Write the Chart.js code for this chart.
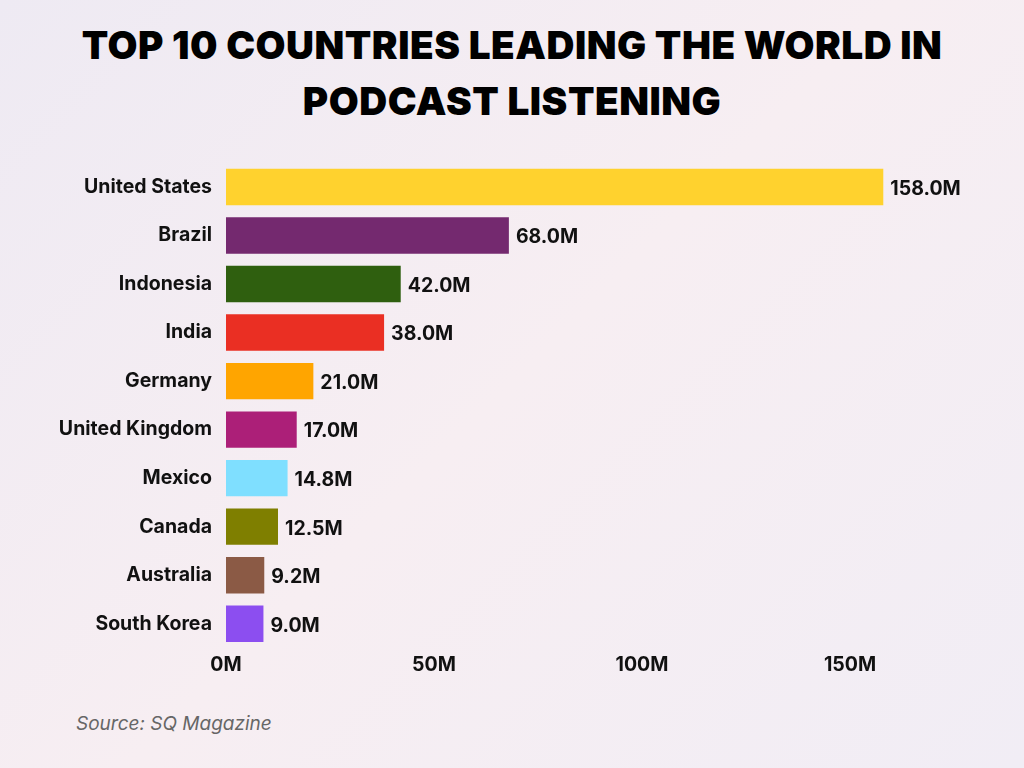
<!DOCTYPE html>
<html>
<head>
<meta charset="utf-8">
<script src="https://cdn.jsdelivr.net/npm/chart.js@4"></script>
<style>
  body { margin: 0; width: 1024px; height: 768px; overflow: hidden;
         background: linear-gradient(135deg, #eeeaf3 0%, #f7eef2 50%, #f1edf5 100%);
         font-family: Inter, "Noto Sans", sans-serif; }
  #title { position: absolute; top: 17px; left: 0; width: 1024px; text-align: center;
           font-size: 38.7px; font-weight: 900; line-height: 56px; color: #000; letter-spacing: 0.5px; }
  #wrap { position: absolute; left: 0; top: 145px; width: 1024px; height: 543px; }
  #source { position: absolute; left: 76px; top: 712px; font-size: 19px; font-style: italic; color: #666; }
</style>
</head>
<body>
<div id="title">TOP 10 COUNTRIES LEADING THE WORLD IN<br>PODCAST LISTENING</div>
<div id="wrap"><canvas id="chart"></canvas></div>
<div id="source">Source: SQ Magazine</div>
<script>
var countries = ["United States", "Brazil", "Indonesia", "India", "Germany", "United Kingdom", "Mexico", "Canada", "Australia", "South Korea"];
var listeners = [158.0, 68.0, 42.0, 38.0, 21.0, 17.0, 14.8, 12.5, 9.2, 9.0];
var barColors = ["#ffd22e", "#74296f", "#2f5f0f", "#ea2f23", "#ffa500", "#ac1f78", "#7fdfff", "#7f7f00", "#8b5a45", "#8c4ef0"];
var tickValues = [0, 50, 100, 150];

// draw value labels at bar ends
var valueLabels = {
    id: 'valueLabels',
    afterDatasetsDraw: function(chart) {
        var ctx = chart.ctx;
        var meta = chart.getDatasetMeta(0);
        ctx.save();
        ctx.font = '700 19.5px Inter';
        ctx.fillStyle = '#111';
        ctx.textBaseline = 'middle';
        meta.data.forEach(function(bar, i) {
            ctx.fillText(listeners[i].toFixed(1) + 'M', bar.x + 7, bar.y + 2);
        });
        ctx.restore();
    }
};

new Chart(document.getElementById('chart'), {
    type: 'bar',
    data: {
        labels: countries,
        datasets: [{ data: listeners, backgroundColor: barColors, barPercentage: 0.75, categoryPercentage: 1 }]
    },
    options: {
        indexAxis: 'y',
        responsive: true,
        maintainAspectRatio: false,
        animation: false,
        layout: { padding: { left: 0, right: 70, top: 0, bottom: 0 } },
        plugins: { legend: { display: false }, tooltip: { enabled: false } },
        scales: {
            x: {
                min: 0, max: 175,
                grid: { display: false }, border: { display: false },
                afterBuildTicks: function(axis) { axis.ticks = tickValues.map(function(v) { return { value: v }; }); },
                afterFit: function(axis) { axis.height = 40; },
                ticks: { color: '#111', font: { family: 'Inter', size: 19.5, weight: '700' }, padding: -3,
                         callback: function(v) { return v + 'M'; } }
            },
            y: {
                grid: { display: false }, border: { display: false },
                afterFit: function(axis) { axis.width = 226; },
                ticks: { color: '#111', font: { family: 'Inter', size: 19.5, weight: '700' }, padding: 6 }
            }
        }
    },
    plugins: [valueLabels]
});
</script>
</body>
</html>
